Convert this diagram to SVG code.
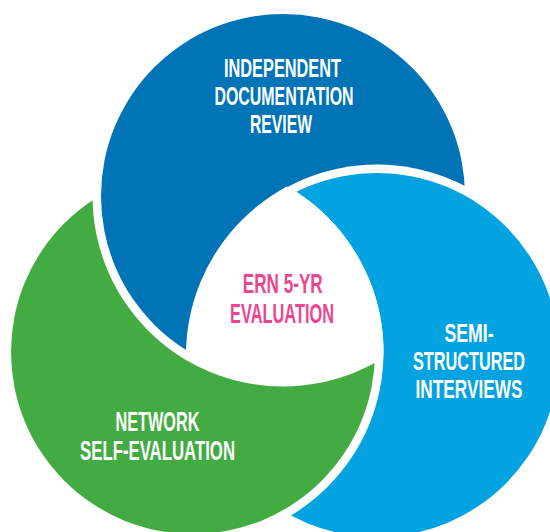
<svg xmlns="http://www.w3.org/2000/svg" width="550" height="532" viewBox="0 0 550 532">
  <style>
    .lbl { font-family: "Liberation Sans", Arial, sans-serif; font-weight: 700; text-anchor: middle; fill: #ffffff; }
    .ctr { fill: #EA4790; }
    .ring { fill: #ffffff; }
    .blue { fill: #0173B7; }
    .sky { fill: #03A3E1; }
    .green { fill: #42AC42; }
  </style>
  <defs>
    <mask id="mReviewOverNetwork" maskUnits="userSpaceOnUse" x="0" y="0" width="550" height="532">
      <circle cx="193" cy="352" r="200" fill="#ffffff"/>
      <circle cx="377" cy="355" r="190.5" fill="#000000"/>
    </mask>
    <clipPath id="cNetwork"><circle cx="193" cy="352" r="190.5"/></clipPath>
    <clipPath id="cInterviews"><circle cx="377" cy="355" r="191"/></clipPath>
  </defs>
  <rect width="550" height="532" fill="#ffffff"/>

  <g id="node-documentation-review">
    <circle class="blue" cx="283" cy="196" r="182"/>
    <text class="lbl" transform="translate(282.5,76.7) scale(0.6,1)" font-size="26" textLength="195" lengthAdjust="spacingAndGlyphs">INDEPENDENT</text>
    <text class="lbl" transform="translate(284,105) scale(0.6,1)" font-size="26" textLength="231.7" lengthAdjust="spacingAndGlyphs">DOCUMENTATION</text>
    <text class="lbl" transform="translate(281,133.3) scale(0.6,1)" font-size="26" textLength="103.3" lengthAdjust="spacingAndGlyphs">REVIEW</text>
  </g>

  <g id="node-semi-structured-interviews">
    <circle class="ring" cx="377" cy="355" r="190.5"/>
    <circle class="sky" cx="377" cy="355" r="182"/>
    <text class="lbl" transform="translate(469,341.7) scale(0.6,1)" font-size="26.5" textLength="81.7" lengthAdjust="spacingAndGlyphs">SEMI-</text>
    <text class="lbl" transform="translate(469,370) scale(0.6,1)" font-size="26.5" textLength="186.7" lengthAdjust="spacingAndGlyphs">STRUCTURED</text>
    <text class="lbl" transform="translate(469,398.3) scale(0.6,1)" font-size="26.5" textLength="178.3" lengthAdjust="spacingAndGlyphs">INTERVIEWS</text>
  </g>

  <g id="node-network-self-evaluation">
    <circle class="ring" cx="193" cy="352" r="190.5"/>
    <circle class="green" cx="193" cy="352" r="182"/>
    <text class="lbl" transform="translate(157.5,431) scale(0.6,1)" font-size="27" textLength="140" lengthAdjust="spacingAndGlyphs">NETWORK</text>
    <text class="lbl" transform="translate(157.5,460) scale(0.6,1)" font-size="27" textLength="258.3" lengthAdjust="spacingAndGlyphs">SELF-EVALUATION</text>
  </g>

  <g id="overlap-review-over-network" mask="url(#mReviewOverNetwork)">
    <circle class="ring" cx="283" cy="196" r="190.5"/>
    <circle class="blue" cx="283" cy="196" r="182"/>
  </g>

  <g id="node-ern-evaluation">
    <g clip-path="url(#cNetwork)">
      <g clip-path="url(#cInterviews)">
        <circle class="ring" cx="283" cy="196" r="190.5"/>
      </g>
    </g>
    <text class="lbl ctr" transform="translate(282.7,293.3) scale(0.6,1)" font-size="27.5" textLength="133.3" lengthAdjust="spacingAndGlyphs">ERN 5-YR</text>
    <text class="lbl ctr" transform="translate(282,322.7) scale(0.6,1)" font-size="27.5" textLength="173.3" lengthAdjust="spacingAndGlyphs">EVALUATION</text>
  </g>

  <g id="connectors"/>
</svg>
